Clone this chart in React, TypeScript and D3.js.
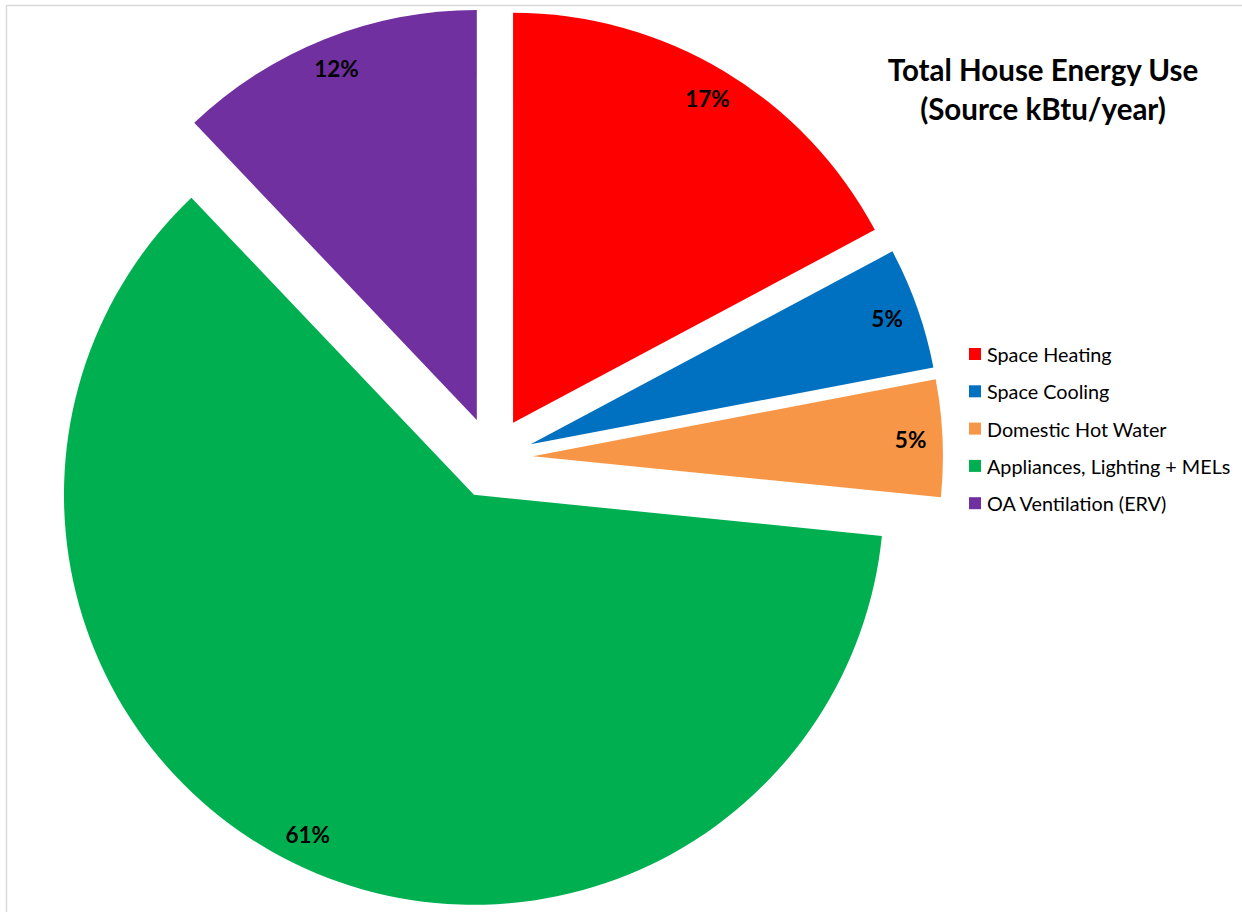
import React from "react";
import * as d3 from "d3";

const categories = [
  "Space Heating",
  "Space Cooling",
  "Domestic Hot Water",
  "Appliances, Lighting + MELs",
  "OA Ventilation (ERV)",
];
const values = [17.2, 4.8, 4.6, 61.3, 12.1];
const colors = ["#FF0000", "#0070C0", "#F79646", "#00B050", "#7030A0"];
const titleLines = ["Total House Energy Use", "(Source kBtu/year)"];

const W = 1242;
const H = 912;
const CX = 492;
const CY = 458;
const R = 410;
const EXPLODE = 41;
const LABEL_R = 378;

export default function App() {
  const pie = d3.pie<number>().sort(null).value((d) => d)(values);
  const arc = d3.arc<d3.PieArcDatum<number>>().innerRadius(0).outerRadius(R);
  const total = d3.sum(values);
  const font = "Lato, 'Open Sans', sans-serif";

  return (
    <svg
      width={W}
      height={H}
      style={{ position: "absolute", left: 0, top: 0, background: "#fff" }}
    >
      <rect x={6.5} y={5.5} width={W + 20} height={H + 20} fill="#fff" stroke="#d9d9d9" strokeWidth={1.5} />
      <g transform={`translate(${CX},${CY})`}>
        {pie.map((p, i) => {
          const mid = (p.startAngle + p.endAngle) / 2;
          const ox = Math.sin(mid) * EXPLODE;
          const oy = -Math.cos(mid) * EXPLODE;
          const lx = Math.sin(mid) * LABEL_R;
          const ly = -Math.cos(mid) * LABEL_R;
          return (
            <g key={i} transform={`translate(${ox},${oy})`}>
              <path d={arc(p) || ""} fill={colors[i]} />
              <text
                x={lx}
                y={ly}
                textAnchor="middle"
                dominantBaseline="central"
                fontFamily={font}
                fontWeight="bold"
                fontSize={22.5}
                fill="#000"
              >
                {`${Math.round((values[i] / total) * 100)}%`}
              </text>
            </g>
          );
        })}
      </g>
      <g fontFamily={font} fontWeight="bold" fontSize={29.5} fill="#000" textAnchor="middle">
        {titleLines.map((t, i) => (
          <text key={i} x={1043} y={81 + i * 39}>
            {t}
          </text>
        ))}
      </g>
      <g fontFamily={font} fontSize={19.8} fill="#000">
        {categories.map((c, i) => (
          <g key={c} transform={`translate(969,${354 + i * 37.3})`}>
            <rect x={0} y={-6} width={12} height={12} fill={colors[i]} />
            <text x={18} y={0} dominantBaseline="central">
              {c}
            </text>
          </g>
        ))}
      </g>
    </svg>
  );
}
